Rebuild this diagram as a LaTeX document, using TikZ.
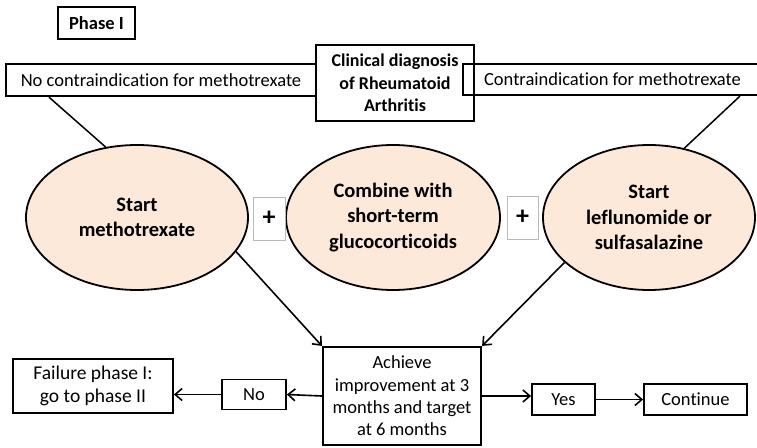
\documentclass[tikz,border=0pt]{standalone}
\usepackage{fontspec}
\setmainfont{Carlito}[Ligatures=NoCommon]
\usetikzlibrary{shapes.geometric,arrows.meta}
\definecolor{peach}{RGB}{252,233,218}
\begin{document}
\begin{tikzpicture}[x=1pt,y=-1pt,
  txt/.style={font=\fontsize{18.5}{23}\selectfont, align=center, inner sep=0pt},
  thickbox/.style={txt, draw, line width=2.8pt},
  midbox/.style={txt, draw, line width=2.2pt},
  smallbox/.style={txt, draw, line width=1.8pt},
  oval/.style={txt, ellipse, draw, line width=1.8pt, fill=peach, font=\fontsize{20.5}{25.5}\selectfont\bfseries},
  plusbox/.style={txt, draw=gray!55, line width=1pt, fill=white, font=\fontsize{26}{26}\selectfont\bfseries},
  conn/.style={line width=1.5pt},
  arr/.style={line width=1.6pt, -{Straight Barb[length=7pt,width=12pt]}}
]
\useasboundingbox (0,0) rectangle (757,447);
\clip (0,0) rectangle (757,447);

\node[thickbox, minimum width=77, minimum height=32] (phase) at (96.5,23) {\textbf{Phase I}};

\node[midbox, minimum width=310, minimum height=32] (nomtx) at (161,80) {No contraindication for methotrexate};
\node[midbox, minimum width=316, minimum height=31, anchor=west, text width=316, align=flush left] (cimtx) at (462,79.5) {\hspace*{21pt}Contraindication for methotrexate};
\node[thickbox, minimum width=158, minimum height=76, font=\fontsize{18}{22.5}\selectfont\bfseries] (diag) at (395,83) {Clinical diagnosis\\of Rheumatoid\\Arthritis};

\node[oval, minimum width=222, minimum height=145] (e1) at (137,217.5) {Start\\methotrexate};
\node[oval, minimum width=214, minimum height=145] (e2) at (393,217.5) {Combine with\\short-term\\glucocorticoids};
\node[oval, minimum width=212, minimum height=145] (e3) at (649,217.5) {Start\\leflunomide or\\sulfasalazine};

\node[plusbox, minimum width=32, minimum height=43] (p1) at (269,218.5) {+};
\node[plusbox, minimum width=31, minimum height=43] (p2) at (522.5,217.5) {+};

\node[midbox, minimum width=158, minimum height=98, font=\fontsize{18.5}{22.3}\selectfont] (ach) at (402,396) {Achieve\\improvement at 3\\months and target\\at 6 months};
\node[smallbox, minimum width=160, minimum height=54, font=\fontsize{19.5}{23}\selectfont] (fail) at (93,386) {Failure phase I:\\go to phase II};
\node[smallbox, minimum width=64, minimum height=30] (no) at (254,394.5) {No};
\node[smallbox, minimum width=63, minimum height=31] (yes) at (563.5,399.5) {Yes};
\node[smallbox, minimum width=103, minimum height=31] (cont) at (695.5,399.5) {Continue};

\draw[conn] ([xshift=44pt]nomtx.south west) -- (e1.114);
\draw[conn] ([xshift=278pt]cimtx.south west) -- (e3.63);
\draw[arr] (e1.-19) -- (ach.north west);
\draw[arr] (e3.208) -- (ach.north east);
\draw[arr] (ach.west) -- (no.east);
\draw[arr] (no.west) -- (no.west -| fail.east);
\draw[arr] (ach.east) -- (ach.east -| yes.west);
\draw[arr] (yes.east) -- (yes.east -| cont.west);
\end{tikzpicture}
\end{document}
